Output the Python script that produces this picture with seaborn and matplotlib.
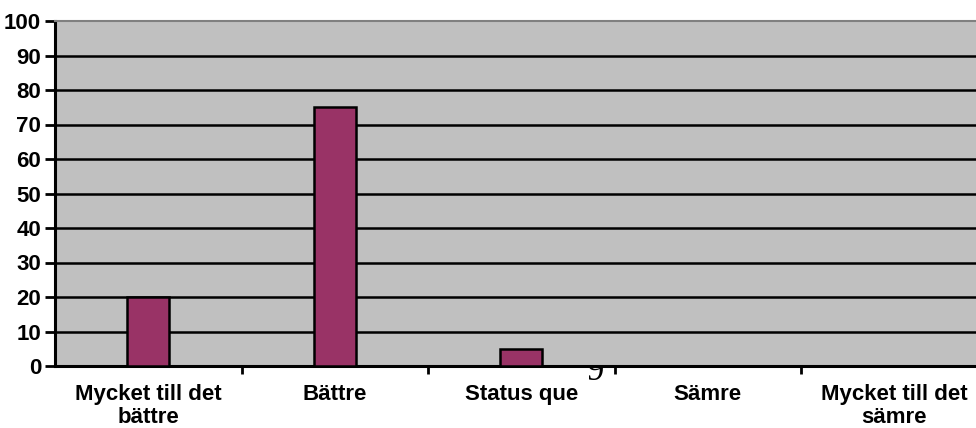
import matplotlib
matplotlib.use("Agg")
import matplotlib.pyplot as plt
import seaborn as sns
import pandas as pd

categories = ["Mycket till det\nbättre", "Bättre", "Status que", "Sämre", "Mycket till det\nsämre"]
values = [20, 75, 5, 0, 0]
yticks = list(range(0, 101, 10))

sns.set_style("white")
plt.rcParams["font.family"] = ["Liberation Sans", "DejaVu Sans"]
plt.rcParams["text.color"] = "black"
plt.rcParams["xtick.color"] = "black"
plt.rcParams["ytick.color"] = "black"

W, H = 976, 428
fig = plt.figure(figsize=(W / 100, H / 100), dpi=100)
left, right, top, bottom = 55, 987.5, 21, 366
ax = fig.add_axes([left / W, 1 - bottom / H, (right - left) / W, (bottom - top) / H])

df = pd.DataFrame({"cat": categories, "val": values})
sns.barplot(data=df, x="cat", y="val", color="#993366", width=0.225,
            edgecolor="black", linewidth=1.8, saturation=1, ax=ax, zorder=3)

ax.set_facecolor("#C0C0C0")
ax.set_xlim(-0.5, 4.5)
ax.set_ylim(0, 100)
ax.set_yticks(yticks)
ax.set_yticklabels([str(t) for t in yticks], fontsize=16, fontweight="bold", color="black")
ax.set_xlabel("")
ax.set_ylabel("")

ax.yaxis.grid(True, color="black", linewidth=1.8, zorder=1)
ax.set_axisbelow(True)
ax.yaxis.get_gridlines()[-1].set_visible(False)

ax.tick_params(axis="y", direction="out", length=7, width=2, color="black", pad=3, left=True)
ax.set_xticks(range(len(categories)))
ax.set_xticklabels(categories, fontsize=16, fontweight="bold", linespacing=1.15, color="black")
ax.tick_params(axis="x", which="major", length=0, pad=13)
ax.set_xticks([i + 0.5 for i in range(len(categories) - 1)], minor=True)
ax.tick_params(axis="x", which="minor", direction="out", length=6, width=2, color="black", bottom=True)

for s in ["left", "bottom"]:
    ax.spines[s].set_color("black")
    ax.spines[s].set_linewidth(2.2)
ax.spines["top"].set_color("#808080")
ax.spines["top"].set_linewidth(1.5)
ax.spines["right"].set_visible(False)

fig.text(596 / W, 1 - 372 / H, "9", family=["Liberation Serif", "DejaVu Serif"],
         fontsize=25, ha="center", va="center", zorder=-1)

fig.savefig("out.png", dpi=100)
